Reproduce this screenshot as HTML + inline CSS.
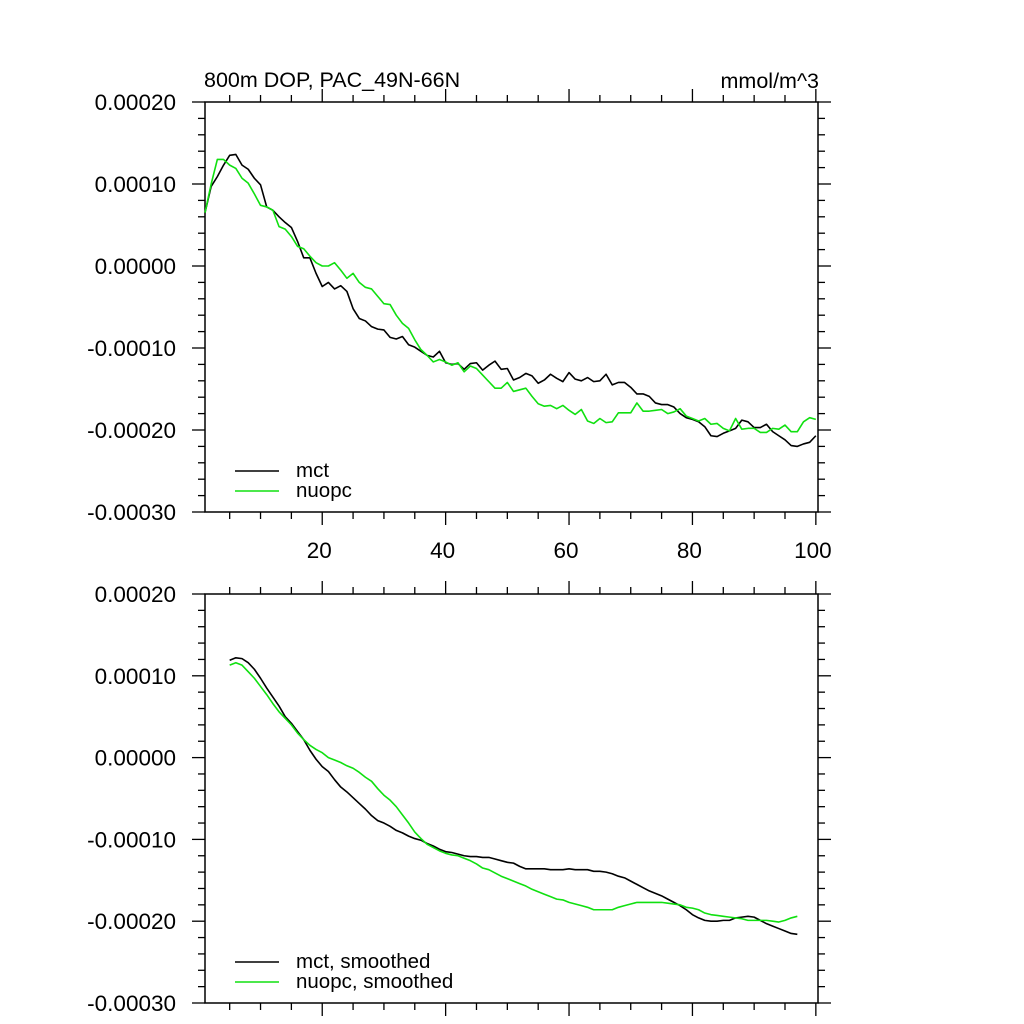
<!DOCTYPE html>
<html><head><meta charset="utf-8"><style>
html,body{margin:0;padding:0;background:#fff}
svg{display:block;font-family:"Liberation Sans",sans-serif}
</style></head><body>
<svg id="chart" width="1024" height="1024" viewBox="0 0 1024 1024" xmlns="http://www.w3.org/2000/svg">
<text x="204" y="87" font-size="21.5">800m DOP, PAC_49N-66N</text>
<text x="819" y="88" font-size="21.5" text-anchor="end">mmol/m^3</text>
</svg>
<script>
const yTicks = [0.0002, 0.0001, 0, -0.0001, -0.0002, -0.0003];
const yTickLabels = ["0.00020", "0.00010", "0.00000", "-0.00010", "-0.00020", "-0.00030"];
const xTicks = [20, 40, 60, 80, 100];
const xTickLabels = ["20", "40", "60", "80", "100"];
const legendTop = ["mct", "nuopc"];
const legendBottom = ["mct, smoothed", "nuopc, smoothed"];
// raw series (units of 1e-5), x = 1..100
const mctRaw = [6.5,9.7,10.9,12.3,13.5,13.6,12.3,11.8,10.7,9.9,7.2,6.8,6.0,5.3,4.7,3.0,1.0,1.0,-0.9,-2.5,-2.0,-2.8,-2.4,-3.1,-5.2,-6.4,-6.7,-7.4,-7.7,-7.8,-8.7,-8.9,-8.6,-9.6,-9.9,-10.4,-10.9,-11.1,-10.4,-11.8,-12.0,-11.9,-12.6,-11.9,-11.8,-12.7,-12.1,-11.6,-12.6,-12.5,-13.9,-13.6,-13.1,-13.4,-14.3,-13.9,-13.2,-13.7,-14.1,-13.0,-13.8,-14.0,-13.6,-14.1,-14.0,-13.2,-14.5,-14.2,-14.2,-14.8,-15.6,-15.6,-15.9,-16.7,-16.9,-16.9,-17.2,-18.0,-18.5,-18.7,-19.0,-19.6,-20.7,-20.8,-20.4,-20.1,-19.8,-18.8,-19.0,-19.7,-19.7,-19.3,-20.2,-20.7,-21.2,-21.9,-22.0,-21.7,-21.5,-20.7];
const nuopcRaw = [6.5,10.0,13.0,13.0,12.3,11.9,10.7,10.1,8.8,7.4,7.2,6.8,4.8,4.5,3.6,2.4,2.1,1.2,0.4,0,0,0.4,-0.5,-1.5,-0.9,-2.0,-2.6,-2.8,-3.7,-4.6,-4.7,-6.0,-7.0,-7.6,-9.0,-10.2,-10.9,-11.7,-11.4,-11.7,-12.1,-11.8,-12.9,-12.2,-12.5,-13.3,-14.1,-14.9,-14.9,-14.2,-15.3,-15.1,-14.9,-15.9,-16.8,-17.1,-17.0,-17.4,-17.0,-17.6,-18.1,-17.5,-18.9,-19.2,-18.6,-19.1,-19.0,-17.9,-17.9,-17.9,-16.7,-17.7,-17.7,-17.6,-17.5,-18.0,-17.8,-17.4,-18.3,-18.6,-18.9,-18.6,-19.3,-19.2,-19.8,-20.1,-18.6,-19.9,-19.8,-19.8,-20.3,-20.3,-19.8,-19.9,-19.4,-20.2,-20.2,-19.0,-18.5,-18.7];
// smoothed series (units of 1e-5), x = 5..97
const smoothStart = 5;
const mctSmooth = [11.9,12.2,12.1,11.6,10.8,9.7,8.5,7.4,6.3,5.0,4.2,3.2,2.2,0.9,-0.2,-1.1,-1.7,-2.7,-3.6,-4.2,-4.9,-5.6,-6.3,-7.1,-7.7,-8.0,-8.4,-8.9,-9.2,-9.6,-9.9,-10.1,-10.5,-10.8,-11.2,-11.5,-11.6,-11.8,-12.0,-12.1,-12.1,-12.2,-12.2,-12.4,-12.6,-12.8,-12.9,-13.3,-13.6,-13.6,-13.6,-13.6,-13.7,-13.7,-13.7,-13.6,-13.7,-13.7,-13.7,-13.9,-13.9,-14.0,-14.2,-14.5,-14.7,-15.1,-15.5,-15.9,-16.3,-16.6,-16.9,-17.3,-17.7,-18.1,-18.6,-19.2,-19.6,-19.9,-20.0,-20.0,-19.9,-19.9,-19.6,-19.5,-19.4,-19.5,-19.9,-20.3,-20.6,-20.9,-21.2,-21.5,-21.6];
const nuopcSmooth = [11.3,11.6,11.3,10.5,9.7,8.7,7.7,6.6,5.6,4.8,4.0,3.0,2.2,1.5,1.0,0.6,0.0,-0.3,-0.6,-1.0,-1.3,-1.8,-2.4,-2.9,-3.8,-4.6,-5.2,-6.0,-7.0,-8.0,-9.1,-9.9,-10.6,-11.0,-11.4,-11.7,-11.9,-12.0,-12.3,-12.6,-13.0,-13.5,-13.7,-14.1,-14.5,-14.8,-15.1,-15.4,-15.7,-16.1,-16.4,-16.7,-17.0,-17.3,-17.4,-17.7,-17.9,-18.1,-18.3,-18.6,-18.6,-18.6,-18.6,-18.3,-18.1,-17.9,-17.7,-17.7,-17.7,-17.7,-17.7,-17.8,-17.9,-18.0,-18.3,-18.4,-18.6,-19.0,-19.2,-19.3,-19.4,-19.5,-19.6,-19.7,-19.9,-19.9,-19.9,-19.9,-20.0,-20.1,-19.9,-19.6,-19.4];

const NS = "http://www.w3.org/2000/svg";
const svg = document.getElementById("chart");
const GREEN = "#10e010";
const L = 205, R = 818, xMin = 1, xMax = 100.35;
const sx = v => L + (v - xMin) / (xMax - xMin) * (R - L);
function mk(tag, attrs, parent) {
  const e = document.createElementNS(NS, tag);
  for (const k in attrs) e.setAttribute(k, attrs[k]);
  (parent || svg).appendChild(e);
  return e;
}
function panel(id, top, bottom, showXLabels, series, legend) {
  const yMax = 0.0002, yMin = -0.0003;
  const sy = v => top + (yMax - v) / (yMax - yMin) * (bottom - top);
  const g = mk("g", {});
  
  
  for (let v = -30; v <= 20; v += 2) {
    const y = sy(v * 1e-5);
    const major = v % 10 === 0;
    const len = major ? 13 : 7;
    const t1 = mk("line", {x1: L - len, x2: L, y1: y, y2: y, stroke: "#000", "stroke-width": 1.3}, g);
    
    
    const t2 = mk("line", {x1: R, x2: R + len, y1: y, y2: y, stroke: "#000", "stroke-width": 1.3}, g);
    
    
  }
  yTicks.forEach((v, i) => {
    const t = mk("text", {x: 176, y: sy(v) + 8, "font-size": 22.5, "text-anchor": "end"}, g);
    t.textContent = yTickLabels[i];
    
    
  });
  for (let v = 5; v <= 100; v += 5) {
    const x = sx(v);
    const major = v % 20 === 0;
    const len = major ? 13 : 7;
    const a = mk("line", {x1: x, x2: x, y1: bottom, y2: bottom + len, stroke: "#000", "stroke-width": 1.3}, g);
    
    
    const b = mk("line", {x1: x, x2: x, y1: top - len, y2: top, stroke: "#000", "stroke-width": 1.3}, g);
    
    
  }
  if (showXLabels) {
    xTicks.forEach((v, i) => {
      const t = mk("text", {x: sx(v) - 3, y: bottom + 46, "font-size": 22.5, "text-anchor": "middle"}, g);
      t.textContent = xTickLabels[i];
      
      
    });
  }
  const fr = mk("rect", {x: L, y: top, width: R - L, height: bottom - top, fill: "none", stroke: "#000", "stroke-width": 1.5}, g);
  
  
  series.forEach(s => {
    const pts = s.values.map((v, i) => sx(s.start + i).toFixed(2) + "," + sy(v * 1e-5).toFixed(2)).join(" ");
    const p = mk("polyline", {points: pts, fill: "none", stroke: s.color, "stroke-width": 1.6, "stroke-linejoin": "round"}, g);
    
    
  });
  legend.forEach((lab, i) => {
    const ly = bottom - 41 + i * 20;
    const ln = mk("line", {x1: 235, x2: 279, y1: ly, y2: ly, stroke: series[i].color, "stroke-width": 1.6}, g);
    
    
    const t = mk("text", {x: 296, y: ly + 6, "font-size": 20.5}, g);
    t.textContent = lab;
    
    
  });
}
panel('top-panel', 102, 512, true,
  [{name: 'mct-line', values: mctRaw, start: 1, color: "#000"},
   {name: 'nuopc-line', values: nuopcRaw, start: 1, color: GREEN}], legendTop);
panel('bottom-panel', 594, 1003, false,
  [{name: 'mct-smoothed-line', values: mctSmooth, start: smoothStart, color: "#000"},
   {name: 'nuopc-smoothed-line', values: nuopcSmooth, start: smoothStart, color: GREEN}], legendBottom);
</script>
</body></html>
